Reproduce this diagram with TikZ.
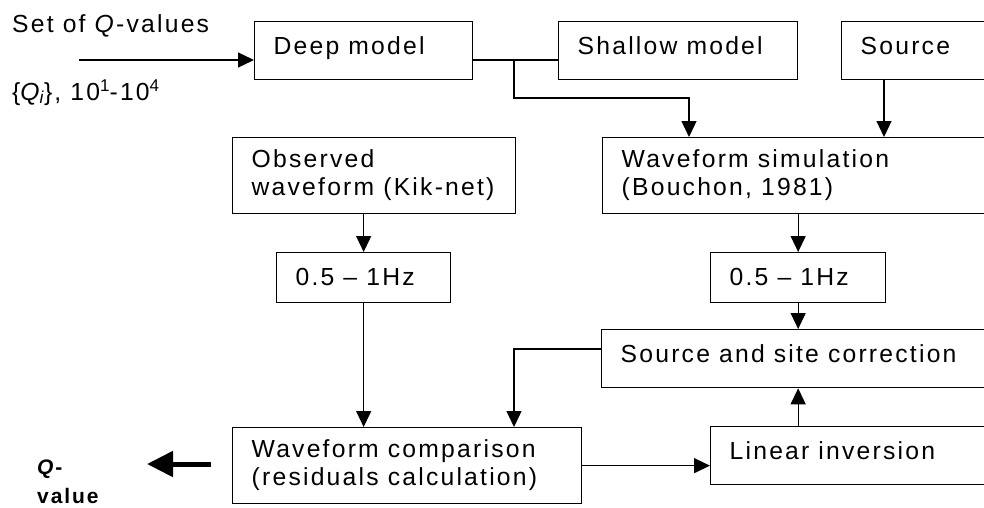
\documentclass[tikz,border=0pt]{standalone}
\usepackage{fontspec}
\setmainfont{Liberation Sans}[LetterSpace=9]
\usetikzlibrary{arrows.meta}
\begin{document}
\begin{tikzpicture}[x=1pt,y=-1pt,
  box/.style={draw, line width=1.3pt, inner xsep=19pt, inner ysep=0pt, text height=17pt,
    anchor=north west, font=\fontsize{24.7pt}{28pt}\selectfont},
  one/.style={box, minimum height=58pt, text depth=9pt},
  hz/.style={box, minimum height=50pt, text depth=1pt},
  two/.style={box, minimum height=76pt, text depth=33pt},
  ln/.style={line width=1.3pt},
  arr/.style={line width=1.3pt, -{Triangle[length=16pt,width=15pt]}},
  qarr/.style={line width=5pt, -{Triangle[length=26pt,width=25pt]}},
  lbl/.style={inner sep=0pt, anchor=base west, font=\fontsize{24.7pt}{28pt}\selectfont},
]
\useasboundingbox (0,0) rectangle (984,507);
\clip (0,0) rectangle (984,507);

% boxes
\node[one, minimum width=218pt] (deep) at (254,21) {\makebox[180pt][l]{Deep model}};
\node[one, minimum width=239pt] (shallow) at (558,21) {\makebox[201pt][l]{Shallow model}};
\node[one, minimum width=200pt] (src) at (841,21) {\makebox[162pt][l]{Source}};
\node[two, minimum width=283pt] (obs) at (232,137)
  {\makebox[245pt][l]{\begin{tabular}[t]{@{}l@{}}Observed\\waveform (Kik-net)\end{tabular}}};
\node[two, minimum width=420pt] (sim) at (602,137)
  {\makebox[382pt][l]{\begin{tabular}[t]{@{}l@{}}Waveform simulation\\(Bouchon, 1981)\end{tabular}}};
\node[hz, minimum width=174pt] (lf) at (276,252) {\makebox[136pt][l]{0.5 – 1Hz}};
\node[hz, minimum width=175pt] (rf) at (710,252) {\makebox[137pt][l]{0.5 – 1Hz}};
\node[one, minimum width=420pt] (corr) at (601,329) {\makebox[382pt][l]{Source and site correction}};
\node[two, minimum width=349pt] (comp) at (232,427)
  {\makebox[311pt][l]{\begin{tabular}[t]{@{}l@{}}Waveform comparison\\(residuals calculation)\end{tabular}}};
\node[one, minimum width=300pt] (lin) at (710,426) {\makebox[262pt][l]{Linear inversion}};

% free labels
\node[lbl] (setq) at (12,32) {Set of \textit{Q}-values};
\node[lbl] (qrange) at (12,100) {\{\textit{Q\textsubscript{i}}\}, 10{\fontsize{17pt}{17pt}\selectfont\raisebox{9pt}{1}}-10{\fontsize{17pt}{17pt}\selectfont\raisebox{9pt}{4}}};
\node[inner sep=0pt, anchor=base west, font=\fontsize{21pt}{29pt}\selectfont\bfseries] (qval) at (37,474)
  {\begin{tabular}[t]{@{}l@{}}\textit{Q}-\\value\end{tabular}};

% connectors
\coordinate (qin) at (79,60);
\draw[arr] (qin) -- (qin -| deep.west);
\coordinate (mid) at (514,60);
\coordinate (sd) at (689,98);
\draw[ln] (deep.east |- mid) -- (shallow.west |- mid);
\draw[arr] (mid) |- (sd) -- (sd |- sim.north);
\draw[arr] ([xshift=43pt]src.south west) -- ([xshift=43pt]src.south west |- sim.north);
\draw[arr] (obs.south -| lf.north) -- (lf.north);
\draw[arr] (sim.south -| rf.north) -- (rf.north);
\draw[arr] (lf.south) -- (comp.north -| lf.south);
\draw[arr] (rf.south) -- (corr.north -| rf.south);
\coordinate (cl) at (514,349);
\draw[arr] (corr.west |- cl) -- (cl) -- (cl |- comp.north);
\draw[arr] (comp.east) -- (comp.east -| lin.west);
\draw[arr] (lin.north -| rf.south) -- (corr.south -| rf.south);
\coordinate (qs) at (211,464);
\coordinate (qe) at (147,464);
\draw[qarr] (qs) -- (qe);
\end{tikzpicture}
\end{document}
